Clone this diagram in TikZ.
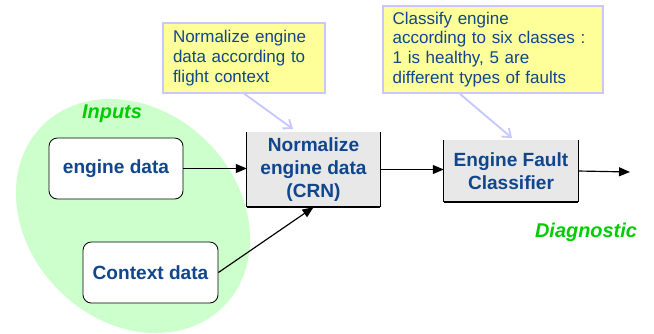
\documentclass[tikz,border=0pt]{standalone}
\usepackage{fontspec}
\setmainfont{Liberation Sans}
\usetikzlibrary{arrows.meta}

\definecolor{crnblue}{RGB}{16,70,140}
\definecolor{notefill}{RGB}{255,255,153}
\definecolor{noteedge}{RGB}{200,200,255}
\definecolor{inputzone}{RGB}{204,255,204}
\definecolor{labelgreen}{RGB}{0,204,0}
\definecolor{stagefill}{RGB}{232,232,232}

\tikzset{
  databox/.style={draw=black, line width=0.7pt, fill=white, rounded corners=0.25cm,
    minimum height=1.83cm, font=\fontsize{16.3pt}{19.6pt}\selectfont\bfseries, text=crnblue},
  stagebox/.style={fill=stagefill, minimum width=4cm, align=center,
    font=\fontsize{16.3pt}{19.6pt}\selectfont\bfseries, text=crnblue},
  notebox/.style={draw=noteedge, line width=0.9pt, fill=notefill, align=left, inner ysep=2pt,
    font=\fontsize{14.5pt}{17pt}\selectfont, text=crnblue},
  zonelabel/.style={font=\fontsize{17pt}{20pt}\selectfont\bfseries\itshape, text=labelgreen},
  flow/.style={line width=1pt, -{Triangle[length=0.33cm,width=0.27cm]}},
  hint/.style={draw=noteedge, line width=1.6pt, -{Straight Barb[length=0.22cm,width=0.34cm]}}
}

\begin{document}
\begin{tikzpicture}[x=0.03cm, y=-0.03cm]
	\useasboundingbox (0,0) rectangle (654,333);
	
	% input region
	\fill[inputzone, rotate around={-45:(133,216)}] (133,216) ellipse [x radius=128, y radius=105];
	\node[zonelabel] (inputs) at (112,114) {Inputs};
	
	\node[databox, minimum width=4.02cm] (eng) at (116,168.5) {engine data};
	\node[databox, minimum width=4.05cm] (ctx) at (150.5,272.5) {Context data};
	
	% processing stages
	\node[stagebox, minimum width=3.99cm, minimum height=2.25cm] (norm) at (313.5,169.5) {Normalize\\engine data\\(CRN)};
	\node[stagebox, minimum width=4.02cm, minimum height=1.86cm] (clf) at (511,171) {Engine Fault\\Classifier};
	\foreach \b in {norm,clf} {
		\draw[line width=0.8pt] (\b.north west) -- (\b.south west);
		\draw[line width=0.8pt] (\b.north east) -- (\b.south east);
		\draw[line width=1.6pt] (\b.south west) -- (\b.south east);
	}
	
	\node[zonelabel] (diag) at (586,232) {Diagnostic};
	\coordinate (out) at (630,172);
	
	\draw[flow] (eng.east) -- (eng.east -| norm.west);
	\draw[flow] (ctx.east) -- (norm.south);
	\draw[flow] (norm.east) -- (norm.east -| clf.west);
	\draw[flow] (clf.east) -- (out);
	
	% notes
	\node[notebox, text width=4.26cm, inner xsep=0.3cm, minimum height=2.1cm] (note1) at (244,58)
		{Normalize engine\\data according to\\flight context};
	\node[notebox, text width=6.02cm, inner xsep=0.29cm, minimum height=2.61cm] (note2) at (493,49.5)
		{Classify engine\\according to six classes :\\1 is healthy, 5 are\\different types of faults};
	
	\coordinate (tip1) at (293,129);
	\coordinate (tip2) at (512,138);
	\coordinate (from2) at (460,94);
	\draw[hint] (note1.south) -- (tip1);
	\draw[hint] (from2) -- (tip2);
	
\end{tikzpicture}
\end{document}
